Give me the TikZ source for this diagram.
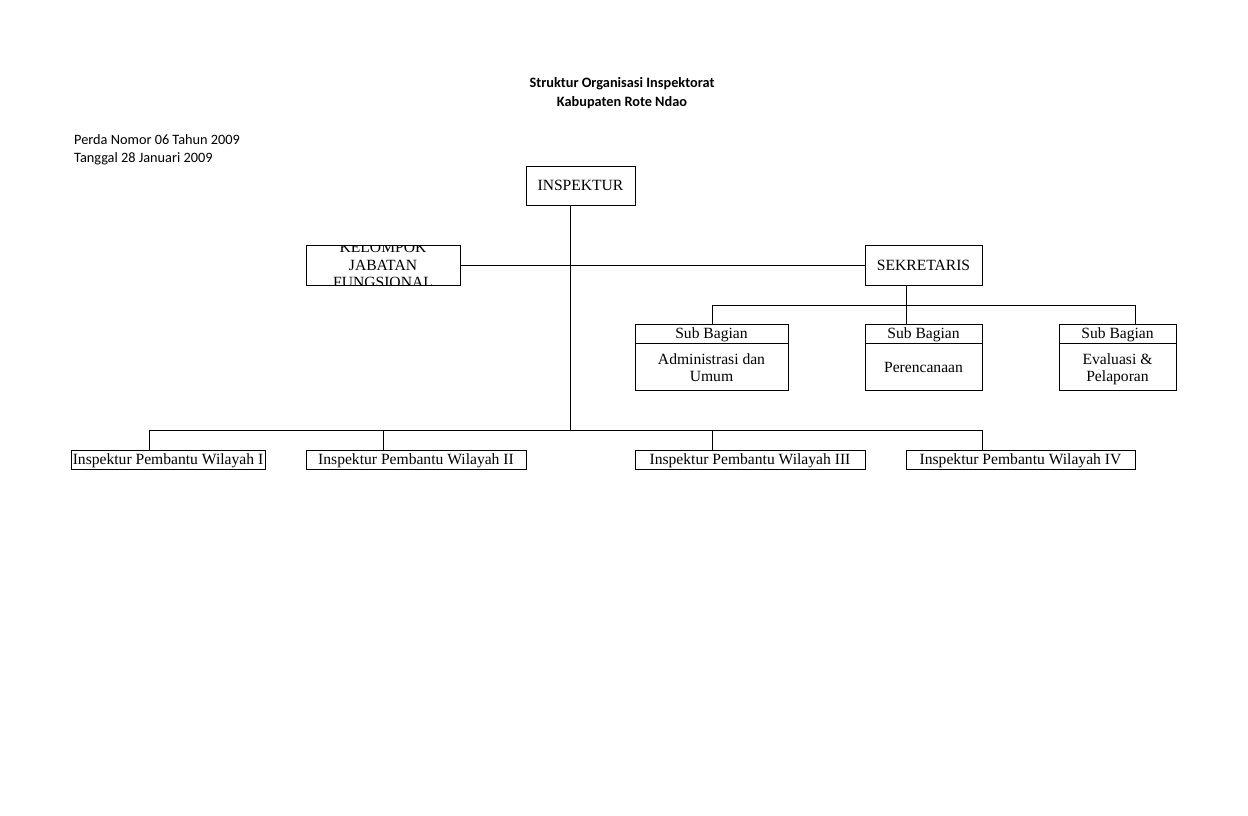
\documentclass[tikz,border=0pt]{standalone}
\usepackage{fontspec}
\setmainfont{Liberation Serif}
\newfontfamily\calibri{Carlito}
\begin{document}
\begin{tikzpicture}[x=1pt,y=-1pt,
  box/.style={draw, line width=0.9pt, inner sep=0pt, align=center, text depth=0pt, font=\fontsize{15.6}{16.5}\selectfont},
  conn/.style={line width=0.9pt},
  lbl/.style={inner sep=0pt, font=\calibri\fontsize{14.3}{16}\selectfont}]
\useasboundingbox (0,0) rectangle (1248,816);
% titles
\node[lbl, font=\calibri\bfseries\fontsize{14.3}{16}\selectfont] (t1) at (622,83.5) {Struktur Organisasi Inspektorat};
\node[lbl, font=\calibri\bfseries\fontsize{14.3}{16}\selectfont] (t2) at (622,102.5) {Kabupaten Rote Ndao};
\node[lbl, anchor=west] (p1) at (74,139.5) {Perda Nomor 06 Tahun 2009};
\node[lbl, anchor=west] (p2) at (74,158.5) {Tanggal 28 Januari 2009};
% boxes
\node[box, minimum width=109pt, minimum height=39pt] (insp) at (580.5,185.5) {INSPEKTUR};
\node[box, minimum width=154pt, minimum height=40pt] (kel) at (383,265) {};
\begin{scope}
\clip (306,245) rectangle (460,285);
\node[inner sep=0pt, align=center, font=\fontsize{15.6}{17.5}\selectfont] (keltext) at (383,265) {KELOMPOK\\JABATAN\\FUNGSIONAL};
\end{scope}
\node[box, minimum width=117pt, minimum height=40pt] (sek) at (923.5,265) {SEKRETARIS};
% sub bagian
\node[box, minimum width=153pt, minimum height=19pt] (s1h) at (711.5,333.5) {Sub Bagian};
\node[box, minimum width=153pt, minimum height=47pt, anchor=north] (s1b) at (s1h.south) {Administrasi dan\\Umum};
\node[box, minimum width=117pt, minimum height=19pt] (s2h) at (923.5,333.5) {Sub Bagian};
\node[box, minimum width=117pt, minimum height=47pt, anchor=north] (s2b) at (s2h.south) {Perencanaan};
\node[box, minimum width=117pt, minimum height=19pt] (s3h) at (1117.5,333.5) {Sub Bagian};
\node[box, minimum width=117pt, minimum height=47pt, anchor=north] (s3b) at (s3h.south) {Evaluasi \&\\Pelaporan};
% wilayah
\node[box, minimum width=194pt, minimum height=19pt] (w1) at (168,459.5) {Inspektur Pembantu Wilayah I};
\node[box, minimum width=220pt, minimum height=19pt] (w2) at (416,459.5) {Inspektur Pembantu Wilayah II};
\node[box, minimum width=230pt, minimum height=19pt] (w3) at (750,459.5) {Inspektur Pembantu Wilayah III};
\node[box, minimum width=229pt, minimum height=19pt] (w4) at (1020.5,459.5) {Inspektur Pembantu Wilayah IV};
% coordinates
\coordinate (bus) at (570,430);
\coordinate (sbus) at (906,305);
\coordinate (sa) at (712,305);
\coordinate (sc) at (1135,305);
\coordinate (b1) at (149,430);
\coordinate (b2) at (383,430);
\coordinate (b3) at (712,430);
\coordinate (b4) at (982,430);
% connectors
\draw[conn] (insp.south -| bus) -- (bus);
\draw[conn] (kel.east) -- (sek.west);
\draw[conn] (sek.south -| sbus) -- (sbus);
\draw[conn] (sa |- s1h.north) -- (sa) -- (sc) -- (sc |- s3h.north);
\draw[conn] (sbus) -- (s2h.north -| sbus);
\draw[conn] (b1 |- w1.north) -- (b1) -- (b4) -- (b4 |- w4.north);
\draw[conn] (b2) -- (b2 |- w2.north);
\draw[conn] (b3) -- (b3 |- w3.north);
\end{tikzpicture}
\end{document}
